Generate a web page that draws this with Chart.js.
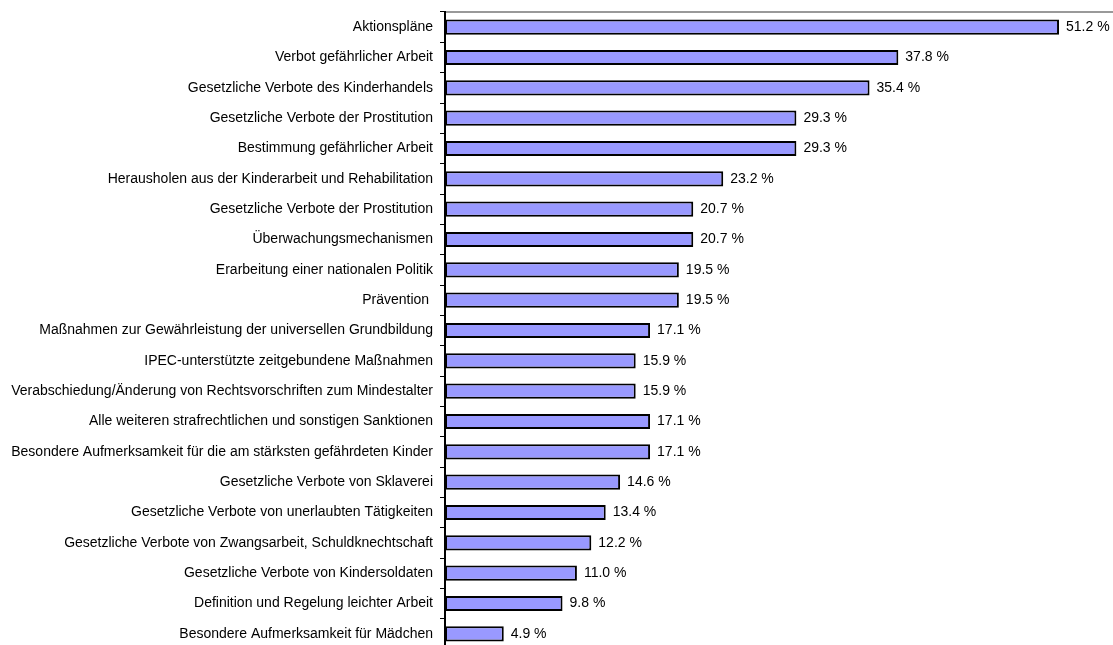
<!DOCTYPE html>
<html>
<head>
<meta charset="utf-8">
<script src="https://cdn.jsdelivr.net/npm/chart.js@4"></script>
<style>
html,body{margin:0;padding:0;background:#fff;overflow:hidden;}
#wrap{position:relative;width:1113px;height:649px;}
</style>
</head>
<body>
<div id="wrap"><canvas id="c"></canvas></div>
<script>
const categories = [
  "Aktionspläne",
  "Verbot gefährlicher Arbeit",
  "Gesetzliche Verbote des Kinderhandels",
  "Gesetzliche Verbote der Prostitution",
  "Bestimmung gefährlicher Arbeit",
  "Herausholen aus der Kinderarbeit und Rehabilitation",
  "Gesetzliche Verbote der Prostitution",
  "Überwachungsmechanismen",
  "Erarbeitung einer nationalen Politik",
  "Prävention ",
  "Maßnahmen zur Gewährleistung der universellen Grundbildung",
  "IPEC-unterstützte zeitgebundene Maßnahmen",
  "Verabschiedung/Änderung von Rechtsvorschriften zum Mindestalter",
  "Alle weiteren strafrechtlichen und sonstigen Sanktionen",
  "Besondere Aufmerksamkeit für die am stärksten gefährdeten Kinder",
  "Gesetzliche Verbote von Sklaverei",
  "Gesetzliche Verbote von unerlaubten Tätigkeiten",
  "Gesetzliche Verbote von Zwangsarbeit, Schuldknechtschaft",
  "Gesetzliche Verbote von Kindersoldaten",
  "Definition und Regelung leichter Arbeit",
  "Besondere Aufmerksamkeit für Mädchen"
];
const values = [51.2, 37.8, 35.4, 29.3, 29.3, 23.2, 20.7, 20.7, 19.5, 19.5, 17.1, 15.9, 15.9, 17.1, 17.1, 14.6, 13.4, 12.2, 11.0, 9.8, 4.9];
const xMin = 0;
const xMax = 55.7;

const FONT = '"Liberation Sans", Arial, sans-serif';

const valueLabels = {
  id: 'valueLabels',
  afterDatasetsDraw(chart) {
    const ctx = chart.ctx;
    const meta = chart.getDatasetMeta(0);
    ctx.save();
    ctx.font = '14px ' + FONT;
    ctx.fillStyle = '#000';
    ctx.textAlign = 'left';
    ctx.textBaseline = 'middle';
    meta.data.forEach((bar, i) => {
      ctx.fillText(values[i].toFixed(1) + ' %', bar.x + 7, bar.y);
    });
    ctx.restore();
  }
};

new Chart(document.getElementById('c'), {
  type: 'bar',
  data: {
    labels: categories,
    datasets: [{
      data: values,
      backgroundColor: '#9999FF',
      borderColor: '#000000',
      borderWidth: 2,
      borderSkipped: false,
      categoryPercentage: 1.0,
      barPercentage: 0.5
    }]
  },
  options: {
    indexAxis: 'y',
    responsive: true,
    maintainAspectRatio: false,
    animation: false,
    layout: { padding: { top: 11, right: 0, bottom: 0, left: 0 } },
    plugins: { legend: { display: false }, tooltip: { enabled: false } },
    scales: {
      x: {
        position: 'top',
        min: xMin,
        max: xMax,
        ticks: { display: false },
        grid: { display: false, drawTicks: false },
        border: { display: true, color: '#999999', width: 2 },
        afterFit(scale) { scale.height = 1; scale.paddingLeft = 0; scale.paddingRight = 0; }
      },
      y: {
        ticks: {
          color: '#000',
          font: { family: FONT, size: 14 },
          padding: 7,
          autoSkip: false
        },
        grid: {
          offset: true,
          drawOnChartArea: false,
          drawTicks: true,
          tickLength: 5,
          color: '#000',
          lineWidth: 1
        },
        border: { display: true, color: '#000', width: 2 },
        afterFit(scale) { scale.width = 445; scale.paddingTop = 0; scale.paddingBottom = 0; }
      }
    }
  },
  plugins: [valueLabels]
});
</script>
</body>
</html>
